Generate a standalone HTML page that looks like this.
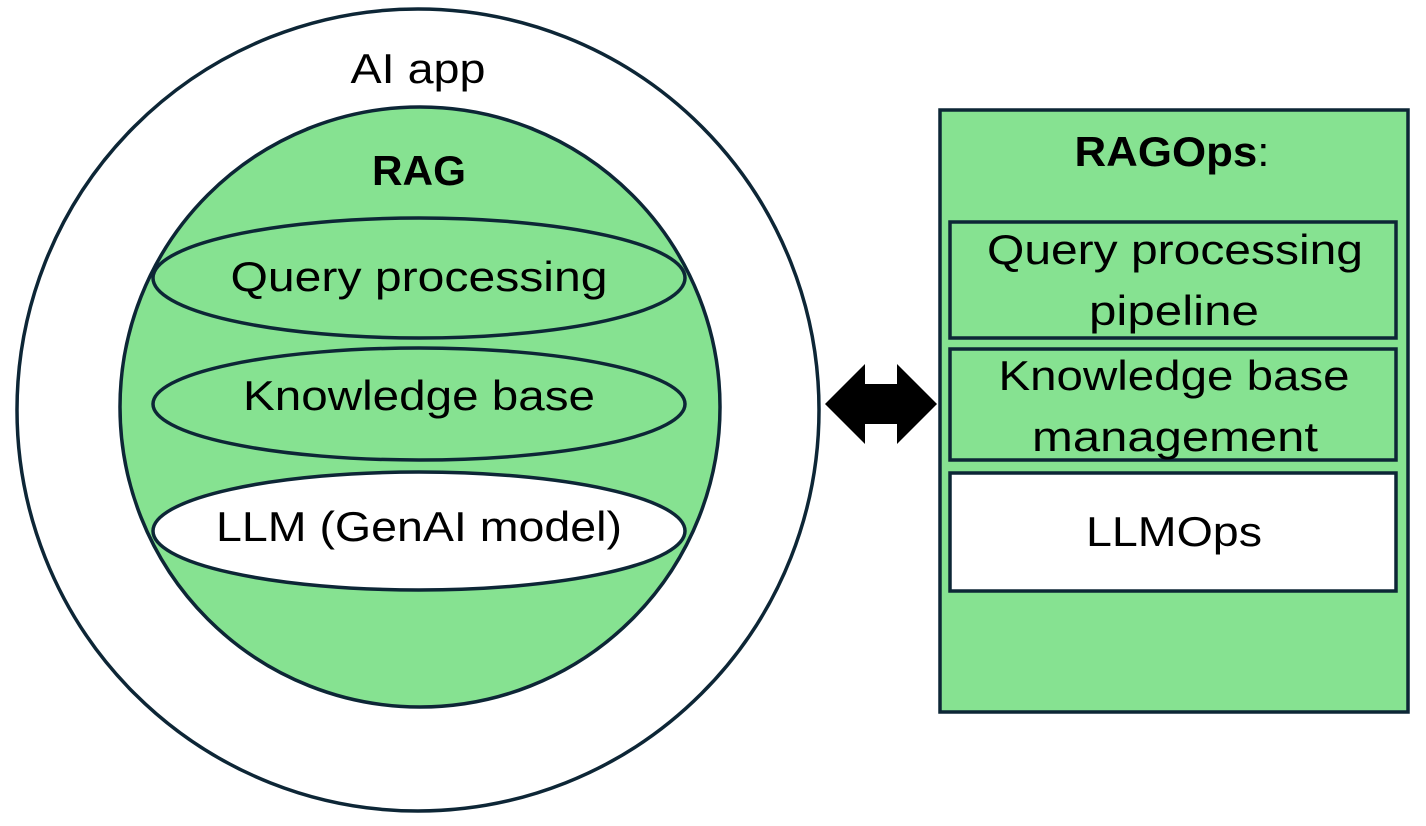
<!DOCTYPE html>
<html><head><style>body{margin:0;background:#fff}</style></head><body>
<svg width="1426" height="826" xmlns="http://www.w3.org/2000/svg" style="display:block;font-family:'Liberation Sans',sans-serif">
<circle cx="418" cy="410" r="401" fill="#fff" stroke="#0d2636" stroke-width="3.5"/>
<circle cx="420" cy="407" r="300" fill="#86e291" stroke="#0d2636" stroke-width="3.5"/>
<ellipse cx="419" cy="278" rx="266" ry="60" fill="#86e291" stroke="#0d2636" stroke-width="3.5"/>
<ellipse cx="419" cy="404" rx="266" ry="56" fill="#86e291" stroke="#0d2636" stroke-width="3.5"/>
<ellipse cx="419" cy="531" rx="266" ry="59" fill="#fff" stroke="#0d2636" stroke-width="3.5"/>
<g font-size="42" text-anchor="middle" fill="#000" lengthAdjust="spacingAndGlyphs">
<text x="418" y="83" textLength="135" lengthAdjust="spacingAndGlyphs">AI app</text>
<text x="419" y="185" font-weight="bold" textLength="94" lengthAdjust="spacingAndGlyphs">RAG</text>
<text x="419" y="291" textLength="377" lengthAdjust="spacingAndGlyphs">Query processing</text>
<text x="419" y="410" textLength="352" lengthAdjust="spacingAndGlyphs">Knowledge base</text>
<text x="419" y="541" textLength="406" lengthAdjust="spacingAndGlyphs">LLM (GenAI model)</text>
</g>
<polygon points="825,404 865,364 865,384 897,384 897,364 937,404 897,444 897,424 865,424 865,444" fill="#000"/>
<rect x="940" y="110" width="468" height="602" fill="#86e291" stroke="#0d2636" stroke-width="3.5"/>
<rect x="950" y="222" width="446" height="116" fill="#86e291" stroke="#0d2636" stroke-width="3.5"/>
<rect x="950" y="349" width="446" height="111" fill="#86e291" stroke="#0d2636" stroke-width="3.5"/>
<rect x="950" y="473" width="446" height="118" fill="#fff" stroke="#0d2636" stroke-width="3.5"/>
<g font-size="42" text-anchor="middle" fill="#000">
<text x="1172" y="166" textLength="195" lengthAdjust="spacingAndGlyphs"><tspan font-weight="bold">RAGOps</tspan>:</text>
<text x="1175" y="264" textLength="376" lengthAdjust="spacingAndGlyphs">Query processing</text>
<text x="1174" y="325" textLength="170" lengthAdjust="spacingAndGlyphs">pipeline</text>
<text x="1174" y="390" textLength="351" lengthAdjust="spacingAndGlyphs">Knowledge base</text>
<text x="1175" y="451" textLength="286" lengthAdjust="spacingAndGlyphs">management</text>
<text x="1174" y="546" textLength="176" lengthAdjust="spacingAndGlyphs">LLMOps</text>
</g>
</svg>
</body></html>
